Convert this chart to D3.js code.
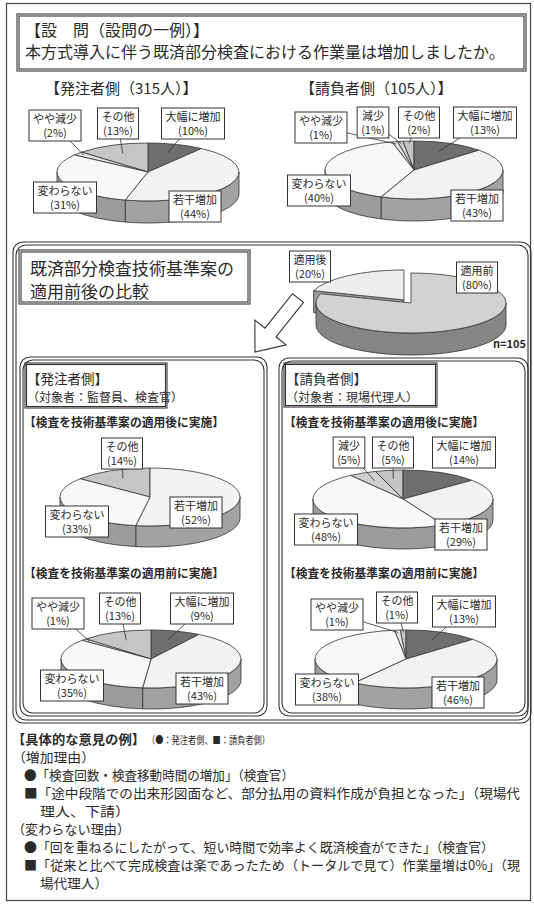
<!DOCTYPE html>
<html>
<head>
<meta charset="utf-8">
<script src="https://cdn.jsdelivr.net/npm/d3@7"></script>
<style>
  body { margin: 0; background: #fff; }
  svg { display: block; font-family: "Noto Sans CJK JP", "Noto Sans", sans-serif; }
</style>
</head>
<body>
<svg id="chart" width="534" height="904"></svg>
<script>
// ---- data ----
const ownerAllCats = ["大幅に増加", "若干増加", "変わらない", "やや減少", "その他"]
const ownerAllVals = [10, 44, 31, 2, 13]
const contrAllCats = ["大幅に増加", "若干増加", "変わらない", "やや減少", "減少", "その他"]
const contrAllVals = [13, 43, 40, 1, 1, 2]
const applyCats = ["適用前", "適用後"]
const applyVals = [80, 20]
const ownerAfterCats = ["若干増加", "変わらない", "その他"]
const ownerAfterVals = [52, 33, 14]
const ownerBeforeCats = ["大幅に増加", "若干増加", "変わらない", "やや減少", "その他"]
const ownerBeforeVals = [9, 43, 35, 1, 13]
const contrAfterCats = ["大幅に増加", "若干増加", "変わらない", "減少", "その他"]
const contrAfterVals = [14, 29, 48, 5, 5]
const contrBeforeCats = ["大幅に増加", "若干増加", "変わらない", "やや減少", "その他"]
const contrBeforeVals = [13, 46, 38, 1, 1]

const opinionLines = [
  "（増加理由）",
  "●「検査回数・検査移動時間の増加」（検査官）",
  "■「途中段階での出来形図面など、部分払用の資料作成が負担となった」（現場代",
  "理人、下請）",
  "（変わらない理由）",
  "●「回を重ねるにしたがって、短い時間で効率よく既済検査ができた」（検査官）",
  "■「従来と比べて完成検査は楽であったため（トータルで見て）作業量増は0%」（現",
  "場代理人）"
]

// ---- colours: [top, side] ----
const fills = {
  "大幅に増加": ["#6f6f6f", "#585858"],
  "若干増加": ["#f2f2f2", "#a2a2a2"],
  "変わらない": ["#f8f8f8", "#9c9c9c"],
  "やや減少": ["#e2e2e2", "#9a9a9a"],
  "減少": ["#d0d0d0", "#8e8e8e"],
  "その他": ["#c6c6c6", "#8a8a8a"],
  "適用前": ["#d2d2d2", "#858585"],
  "適用後": ["#eeeeee", "#9a9a9a"]
}

const svg = d3.select("#chart")
const ink = "#2a2a2a"

// label boxes: [centre x, centre y, leader line?]
const ownerAllBoxes = [[193, 123, 1], [195, 206, 0], [65, 197, 0], [55, 125, 1], [118, 123, 1]]
const contrAllBoxes = [[485, 122, 1], [477, 205, 0], [319, 190, 0], [321, 127, 1], [373, 122, 1], [419, 122, 1]]
const applyBoxes = [[477, 277, 0], [310, 266, 0]]
const ownerAfterBoxes = [[196, 512, 0], [77, 521, 0], [122, 453, 1]]
const ownerBeforeBoxes = [[202, 608, 1], [202, 688, 0], [72, 685, 0], [58, 613, 1], [120, 608, 1]]
const contrAfterBoxes = [[464, 452, 0], [461, 534, 0], [326, 529, 0], [349, 452, 1], [393, 452, 1]]
const contrBeforeBoxes = [[464, 611, 1], [458, 692, 0], [327, 689, 0], [337, 614, 1], [397, 607, 1]]

// ---- frames ----
svg.append("rect").attr("x", 6.5).attr("y", 3.5).attr("width", 524).attr("height", 897)
  .attr("fill", "none").attr("stroke", "#444").attr("stroke-width", 1.2)

const dbl = (x, y, w, h, r, gap) => {
  [0, gap].forEach(k => {
    svg.append("rect").attr("x", x + k).attr("y", y + k)
      .attr("width", w - 2 * k).attr("height", h - 2 * k).attr("rx", r).attr("ry", r)
      .attr("fill", "none").attr("stroke", "#333").attr("stroke-width", 1.1)
  })
}

// a block of lines kept in one text element
const block = (x, ys, lines, size, extra) => {
  const t = svg.append("text").attr("font-size", size).attr("fill", ink)
  lines.forEach((l, i) => {
    const ts = t.append("tspan").attr("x", Array.isArray(x) ? x[i] : x).attr("y", ys[i]).text(l)
    if (extra) extra(ts, i)
  })
  return t
}

// question box
dbl(17, 14, 509, 57, 0, 2)
block(25, [36, 58], ["【設　問（設問の一例）】", "本方式導入に伴う既済部分検査における作業量は増加しましたか。"], 16)
svg.append("text").attr("x", 45).attr("y", 94).attr("font-size", 15).attr("fill", ink)
  .text("【発注者側（315人）】")
svg.append("text").attr("x", 300).attr("y", 94).attr("font-size", 15).attr("fill", ink)
  .text("【請負者側（105人）】")

// middle section
dbl(13, 242, 518, 481, 10, 3)
dbl(19, 250, 231, 54, 0, 2)
block(30, [275, 298], ["既済部分検査技術基準案の", "適用前後の比較"], 17)
svg.append("text").attr("x", 526).attr("y", 348).attr("font-size", 11).attr("font-weight", "bold")
  .attr("text-anchor", "end").attr("fill", ink).text("n=105")

// hollow block arrow pointing down-left
const arrowPts = [[303.5, 302.3], [276, 336.8], [286.1, 344.9], [255, 352], [254.9, 320.1], [265, 328.2], [292.5, 293.7]]
svg.append("path").attr("d", d3.line()(arrowPts) + "Z")
  .attr("fill", "#fff").attr("stroke", "#333").attr("stroke-width", 1.1)

dbl(20, 357, 247, 359, 10, 3)
dbl(279, 358, 249, 358, 10, 3)

dbl(25, 363, 142, 45, 0, 1.5)
block(27, [384, 402], ["【発注者側】", "（対象者：監督員、検査官）"], 13, (ts, i) => ts.attr("font-size", i ? 12 : 13.5))
dbl(284, 363, 153, 44, 0, 1.5)
block(286, [384, 402], ["【請負者側】", "（対象者：現場代理人）"], 13, (ts, i) => ts.attr("font-size", i ? 12 : 13.5))

const sub = (x, y, t) => svg.append("text").attr("x", x).attr("y", y).attr("font-size", 12)
  .attr("font-weight", "bold").attr("fill", ink).attr("textLength", 200)
  .attr("lengthAdjust", "spacingAndGlyphs").text(t)
sub(24, 427, "【検査を技術基準案の適用後に実施】")
sub(284, 427, "【検査を技術基準案の適用後に実施】")
sub(24, 578, "【検査を技術基準案の適用前に実施】")
sub(284, 578, "【検査を技術基準案の適用前に実施】")

// ---- 3D pie ----
function pie3d(cats, vals, o, boxes) {
  const g = svg.append("g")
  const arcs = d3.pie().sort(null).value(d => d)(vals)
  const { cx, cy, rx, ry, h } = o
  const P = (a, dx, dy, z) => [cx + dx + rx * Math.sin(a), cy + dy - ry * Math.cos(a) + (z || 0)]
  const items = arcs.map((a, i) => {
    const ex = (o.explode && o.explode[i]) || 0
    const m = (a.startAngle + a.endAngle) / 2
    return { a, i, m, dx: ex * Math.sin(m), dy: -ex * Math.cos(m) * ry / rx, ex }
  })
  items.slice().sort((p, q) => Math.cos(q.m) - Math.cos(p.m)).forEach(it => {
    const { a, dx, dy } = it
    const col = fills[cats[it.i]]
    const c = [cx + dx, cy + dy]
    if (it.ex) {
      // radial wall that faces the viewer
      const s = a.startAngle
      if (Math.cos(s - Math.PI / 2) < 0) {
        const q = [c, P(s, dx, dy), P(s, dx, dy, h), [c[0], c[1] + h]]
        g.append("path").attr("d", d3.line()(q) + "Z")
          .attr("fill", col[1]).attr("stroke", "#333").attr("stroke-width", 0.8)
      }
    }
    const s = Math.max(a.startAngle, Math.PI / 2)
    const e = Math.min(a.endAngle, 3 * Math.PI / 2)
    if (e > s) {
      g.append("path")
        .attr("d", `M${P(s, dx, dy)}A${rx},${ry} 0 0 1 ${P(e, dx, dy)}L${P(e, dx, dy, h)}A${rx},${ry} 0 0 0 ${P(s, dx, dy, h)}Z`)
        .attr("fill", col[1]).attr("stroke", "#333").attr("stroke-width", 0.8)
    }
    const large = a.endAngle - a.startAngle > Math.PI ? 1 : 0
    g.append("path")
      .attr("d", `M${c}L${P(a.startAngle, dx, dy)}A${rx},${ry} 0 ${large} 1 ${P(a.endAngle, dx, dy)}Z`)
      .attr("fill", col[0]).attr("stroke", "#333").attr("stroke-width", 0.8)
  })

  // labels
  items.forEach(it => {
    const b = boxes[it.i]
    if (b[2]) {
      const r = it.a.endAngle - it.a.startAngle < 0.3 ? 0.92 : 0.7
      const anchor = [cx + it.dx + rx * r * Math.sin(it.m), cy + it.dy - ry * r * Math.cos(it.m)]
      g.append("line").attr("x1", b[0]).attr("y1", b[1]).attr("x2", anchor[0]).attr("y2", anchor[1])
        .attr("stroke", "#333").attr("stroke-width", 0.8)
    }
    const lg = g.append("g")
    const rect = lg.append("rect").attr("fill", "#fff").attr("stroke", "#333").attr("stroke-width", 1)
    const t = lg.append("text").attr("text-anchor", "middle").attr("fill", ink).attr("font-size", 11)
    const t1 = t.append("tspan").attr("x", b[0]).attr("y", b[1] - 2.5).text(cats[it.i])
    const t2 = t.append("tspan").attr("x", b[0]).attr("y", b[1] + 12).text(`(${vals[it.i]}%)`)
    const w = Math.max(t1.node().getComputedTextLength(), t2.node().getComputedTextLength()) + 8
    rect.attr("x", b[0] - w / 2).attr("y", b[1] - 15).attr("width", w).attr("height", 31)
  })
}

pie3d(ownerAllCats, ownerAllVals, { cx: 148, cy: 172, rx: 91, ry: 29, h: 22 }, ownerAllBoxes)
pie3d(contrAllCats, contrAllVals, { cx: 414, cy: 170, rx: 89, ry: 29, h: 22 }, contrAllBoxes)
pie3d(applyCats, applyVals, { cx: 411, cy: 303, rx: 95, ry: 30, h: 22, explode: [0, 12] }, applyBoxes)
pie3d(ownerAfterCats, ownerAfterVals, { cx: 150, cy: 497, rx: 90, ry: 29, h: 21 }, ownerAfterBoxes)
pie3d(ownerBeforeCats, ownerBeforeVals, { cx: 151, cy: 659, rx: 90, ry: 29, h: 21 }, ownerBeforeBoxes)
pie3d(contrAfterCats, contrAfterVals, { cx: 403, cy: 499, rx: 90, ry: 29, h: 21 }, contrAfterBoxes)
pie3d(contrBeforeCats, contrBeforeVals, { cx: 406, cy: 659, rx: 91, ry: 29, h: 21 }, contrBeforeBoxes)

// ---- opinions ----
const head = svg.append("text").attr("y", 744).attr("fill", ink)
head.append("tspan").attr("x", 12).attr("font-size", 13).attr("font-weight", "bold")
  .attr("textLength", 133).attr("lengthAdjust", "spacingAndGlyphs").text("【具体的な意見の例】")
head.append("tspan").attr("x", 147).attr("font-size", 10)
  .attr("textLength", 123).attr("lengthAdjust", "spacingAndGlyphs").text("（●：発注者側、■：請負者側）")

const lineY = [762, 780, 798, 816, 834, 852, 870, 888]
const lineX = [12, 24, 24, 40, 12, 24, 24, 40]
const lineLen = [83, 270, 496, 90, 118, 470, 496, 68]
block(lineX, lineY, opinionLines, 13, (ts, i) =>
  ts.attr("textLength", lineLen[i]).attr("lengthAdjust", "spacingAndGlyphs"))
</script>
</body>
</html>
